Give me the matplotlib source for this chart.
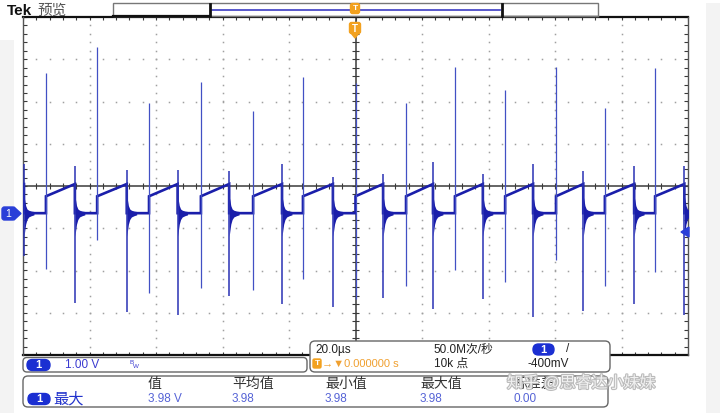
import matplotlib
matplotlib.use('Agg')
import matplotlib.pyplot as plt
from matplotlib.patches import FancyBboxPatch, Polygon, Rectangle
import matplotlib.patheffects as pe
import numpy as np

plt.rcParams['font.family'] = ['Liberation Sans', 'Noto Sans CJK SC', 'DejaVu Sans']

# ---------------- data ----------------
time_per_div_us = 20.0
volt_per_div = 1.0
v_center = 0.663          # volts at the screen's centre line (channel offset)
trigger_level = -0.40

rise_t = [-93.1, -77.7, -62.1, -46.5, -30.8, -15.8, 0.0, 15.2, 29.9, 45.0, 60.3, 75.0, 90.1]
rise_hi = [3.33, 3.95, 2.62, 3.12, 2.43, 3.24, 3.10, 2.62, 3.48, 2.93, 3.48, 2.52, 3.45]
rise_lo = [-1.31, -0.62, -1.86, -1.74, -1.81, -1.55, -2.00, -1.71, -1.33, -1.62, -1.10, -1.71, -1.38]
fall_t = [-99.7, -84.4, -68.8, -53.5, -38.0, -22.1, -6.8, 8.3, 23.3, 38.3, 53.4, 68.5, 83.8, 98.9]
fall_hi = [1.19, 1.14, 1.05, 1.05, 1.02, 1.19, 0.88, 0.95, 1.24, 0.95, 1.19, 1.02, 1.14, 1.14]
fall_lo = [-1.00, -2.10, -2.33, -2.38, -1.95, -2.12, -2.21, -1.98, -2.26, -2.00, -2.43, -2.29, -2.14, -2.38]
low_level = 0.02
ramp_start = 0.42
ramp_end = 0.71
ring_dt = [0.0, 0.25, 0.5, 0.9, 1.4, 2.2, 3.0]
ring_up = [0.40, 0.30, 0.18, 0.10, 0.07, 0.05, 0.04]
ring_dn = [0.55, 0.40, 0.26, 0.15, 0.09, 0.06, 0.04]

ch_scale = "1.00 V"
timebase = "20.0µs"
sample_rate = "50.0M次/秒"
record_len = "10k 点"
trig_pos = "→▼0.000000 s"
trig_lvl = "-400mV"
meas_headers = ["值", "平均值", "最小值", "最大值", "标准差"]
meas_values = ["3.98 V", "3.98", "3.98", "3.98", "0.00"]
meas_name = "最大"

# ---------------- figure ----------------
W, H = 720, 413
fig = plt.figure(figsize=(7.2, 4.13), dpi=100)
fig.patch.set_facecolor('white')


def frac(x0, y0, x1, y1):
    return [x0 / W, 1 - y1 / H, (x1 - x0) / W, (y1 - y0) / H]


ax = fig.add_axes(frac(23, 17, 688, 355))
xmin, xmax = -5 * time_per_div_us, 5 * time_per_div_us
ymin, ymax = v_center - 4 * volt_per_div, v_center + 4 * volt_per_div
ax.set_xlim(xmin, xmax)
ax.set_ylim(ymin, ymax)
ax.axis('off')

# graticule dots
xs_minor = np.arange(xmin, xmax + 0.01, time_per_div_us / 5)
ys_minor = v_center + np.arange(-4, 4.001, 0.2) * volt_per_div
gcol = '#a0a0a0'
for k in range(1, 10):
    if k == 5:
        continue
    x = xmin + time_per_div_us * k
    ax.plot(np.full_like(ys_minor, x), ys_minor, ls='none', marker='s', ms=1.1,
            mew=0, color=gcol, zorder=1)
for k in range(1, 8):
    if k == 4:
        continue
    y = ymin + volt_per_div * k
    ax.plot(xs_minor, np.full_like(xs_minor, y), ls='none', marker='s', ms=1.1,
            mew=0, color=gcol, zorder=1)

# centre lines + ticks
ax.axhline(v_center, color='#3a3a3a', lw=1.1, zorder=2)
ax.axvline(0, color='#3a3a3a', lw=1.1, zorder=2)
ax.vlines(xs_minor, v_center - 0.07, v_center + 0.07, color='#3a3a3a', lw=0.8, zorder=2)
ax.hlines(ys_minor, -1.0, 1.0, color='#3a3a3a', lw=0.8, zorder=2)
# edge ticks
ax.vlines(xs_minor, ymax - 0.08, ymax, color='#3a3a3a', lw=0.8, zorder=2)
ax.vlines(xs_minor, ymin, ymin + 0.08, color='#3a3a3a', lw=0.8, zorder=2)
ax.hlines(ys_minor, xmin, xmin + 1.2, color='#3a3a3a', lw=0.8, zorder=2)
ax.hlines(ys_minor, xmax - 1.2, xmax, color='#3a3a3a', lw=0.8, zorder=2)
# frame
ax.plot([xmin, xmax], [ymax, ymax], color='#111111', lw=1.6, zorder=3, clip_on=False)
ax.plot([xmin, xmax], [ymin, ymin], color='#111111', lw=1.6, zorder=3, clip_on=False)
ax.plot([xmin, xmin], [ymin, ymax], color='#555555', lw=1.0, zorder=3, clip_on=False)
ax.plot([xmax, xmax], [ymin, ymax], color='#555555', lw=1.0, zorder=3, clip_on=False)

# ---------------- waveform ----------------
trace_col = '#1a1eaa'
spike_col = '#4250c4'

tx, ty = [xmin], [ramp_end]
for i, f in enumerate(fall_t):
    tx += [f, f]
    ty += [ramp_end, low_level]
    if i < len(rise_t):
        r = rise_t[i]
        tx += [r, r]
        ty += [low_level, ramp_start]
tx.append(xmax)
ty.append(low_level)
ax.plot(tx, ty, color=trace_col, lw=1.9, zorder=5, solid_joinstyle='miter')

rdt = np.array(ring_dt)
rup = np.array(ring_up)
rdn = np.array(ring_dn)
for f in fall_t:
    ax.fill_between(f + rdt, low_level - rdn, low_level + rup, color=trace_col,
                    lw=0, zorder=5)

ax.vlines(rise_t, rise_lo, rise_hi, color=spike_col, lw=0.9, zorder=6)
ax.vlines(fall_t, fall_lo, fall_hi, color='#2a32b4', lw=1.1, zorder=6)

# ---------------- overlay (screen furniture) ----------------
ov = fig.add_axes([0, 0, 1, 1])
ov.set_xlim(0, W)
ov.set_ylim(H, 0)
ov.axis('off')
ov.patch.set_alpha(0)

# light frame stripes
ov.add_patch(Rectangle((0, 40), 14, H - 40, color='#f3f3f3', lw=0, zorder=0))
ov.add_patch(Rectangle((706, 3), 14, H - 3, color='#f3f3f3', lw=0, zorder=0))

# top bar
ov.text(7, 11, "Tek", fontsize=11, fontweight='bold', color='#111111', va='center', ha='left')
ov.text(37, 11, "预览", fontsize=10.5, color='#555555', va='center', ha='left')
ov.add_patch(Rectangle((113, 3), 485, 13, fill=False, ec='#777777', lw=1.0, zorder=2))
ov.plot([113, 210], [16, 16], color='#111111', lw=1.6, zorder=3)
ov.plot([502, 598], [16, 16], color='#777777', lw=1.0, zorder=3)
ov.plot([212, 500], [10, 10], color='#4a4ac8', lw=1.3, zorder=3)
ov.plot([210, 210], [4, 16], color='#111111', lw=2.0, zorder=3)
ov.plot([502, 502], [4, 16], color='#111111', lw=2.0, zorder=3)
orange = '#f2a11f'
ov.add_patch(FancyBboxPatch((351, 4), 8, 9, boxstyle='round,pad=0.5,rounding_size=2',
                            fc=orange, ec=orange, zorder=4))
ov.text(355, 9, "T", fontsize=6, color='white', ha='center', va='center', fontweight='bold', zorder=5)
ov.add_patch(FancyBboxPatch((350, 23), 10, 10, boxstyle='round,pad=0.5,rounding_size=2',
                            fc=orange, ec=orange, zorder=4))
ov.add_patch(Polygon([[351, 33], [359, 33], [355, 38]], closed=True, fc=orange, ec=orange, zorder=4))
ov.text(355, 28.5, "T", fontsize=7, color='white', ha='center', va='center', fontweight='bold', zorder=5)

blue = '#2233cc'


def oval(x0, x1, yc, h=11):
    ov.add_patch(FancyBboxPatch((x0, yc - h / 2), x1 - x0, h,
                                boxstyle='round,pad=0,rounding_size=5.5',
                                fc='#1b2fd2', ec='#1b2fd2', zorder=8))
    ov.text((x0 + x1) / 2, yc + 0.3, "1", fontsize=8, color='white', ha='center',
            va='center', fontweight='bold', zorder=9)


# channel marker on the left
ov.add_patch(FancyBboxPatch((2, 207), 13, 13, boxstyle='round,pad=0,rounding_size=2.5',
                            fc='#2a3fd8', ec='#2a3fd8', zorder=8))
ov.add_patch(Polygon([[14, 207], [14, 220], [21, 213.5]], closed=True, fc='#2a3fd8',
                     ec='#2a3fd8', zorder=8))
ov.text(8.5, 214, "1", fontsize=7.5, color='white', ha='center', va='center', zorder=9)
# trigger level marker on the right
ov.add_patch(Polygon([[681, 232], [689, 227], [689, 237]], closed=True, fc='#2a3fd8',
                     ec='#2a3fd8', zorder=8))

# channel box
ov.add_patch(FancyBboxPatch((23, 357.5), 284, 14.5, boxstyle='round,pad=0,rounding_size=4',
                            fc='white', ec='#666666', lw=1.0, zorder=6))
oval(27, 50, 365)
ov.text(65, 365.5, ch_scale, fontsize=8.5, color='#3a3ad0', ha='left', va='center', zorder=9)
ov.text(130, 362, "B", fontsize=4.5, color='#3a3ad0', ha='left', va='center', zorder=9)
ov.text(133, 366.5, "W", fontsize=4.5, color='#3a3ad0', ha='left', va='center', zorder=9)

# timebase box
ov.add_patch(FancyBboxPatch((310, 341), 300, 31, boxstyle='round,pad=0,rounding_size=5',
                            fc='white', ec='#666666', lw=1.0, zorder=6))
ov.text(315, 349.5, timebase, fontsize=8.5, color='#222222', ha='left', va='center', zorder=9)
ov.text(433, 349.5, sample_rate, fontsize=8.5, color='#222222', ha='left', va='center', zorder=9)
oval(533, 554, 349.5)
ov.text(566, 349.5, "/", fontsize=8.5, color='#222222', ha='left', va='center', zorder=9)
ov.add_patch(FancyBboxPatch((313, 359), 8, 9, boxstyle='round,pad=0,rounding_size=1.5',
                            fc=orange, ec=orange, zorder=8))
ov.text(317, 363.5, "T", fontsize=6, color='white', ha='center', va='center', fontweight='bold', zorder=9)
ov.text(322, 364, trig_pos, fontsize=8, color='#f0a030', ha='left', va='center', zorder=9)
ov.text(434, 364, record_len, fontsize=8.5, color='#222222', ha='left', va='center', zorder=9)
ov.text(528, 364, trig_lvl, fontsize=8.5, color='#222222', ha='left', va='center', zorder=9)

# measurement box
ov.add_patch(FancyBboxPatch((23, 376), 585, 31, boxstyle='round,pad=0,rounding_size=5',
                            fc='white', ec='#666666', lw=1.0, zorder=6))
col_x = [148, 232, 325, 420, 514]
for x, h, v in zip(col_x, meas_headers, meas_values):
    ov.text(x, 384, h, fontsize=10, color='#333333', ha='left', va='center', zorder=9)
    ov.text(x, 399, v, fontsize=8.5, color='#5563d6', ha='left', va='center', zorder=9)
oval(28, 50, 399)
ov.text(53, 399, meas_name, fontsize=11, color=blue, ha='left', va='center', zorder=9)

# watermark
ov.text(507, 383, "知乎 @思睿达小妹妹", fontsize=11.5, color='#f4f4f4', ha='left', va='center',
        zorder=10, alpha=0.95,
        path_effects=[pe.withStroke(linewidth=1.6, foreground='#b8b8b8')])

fig.savefig('out.png', dpi=100, facecolor='white')
